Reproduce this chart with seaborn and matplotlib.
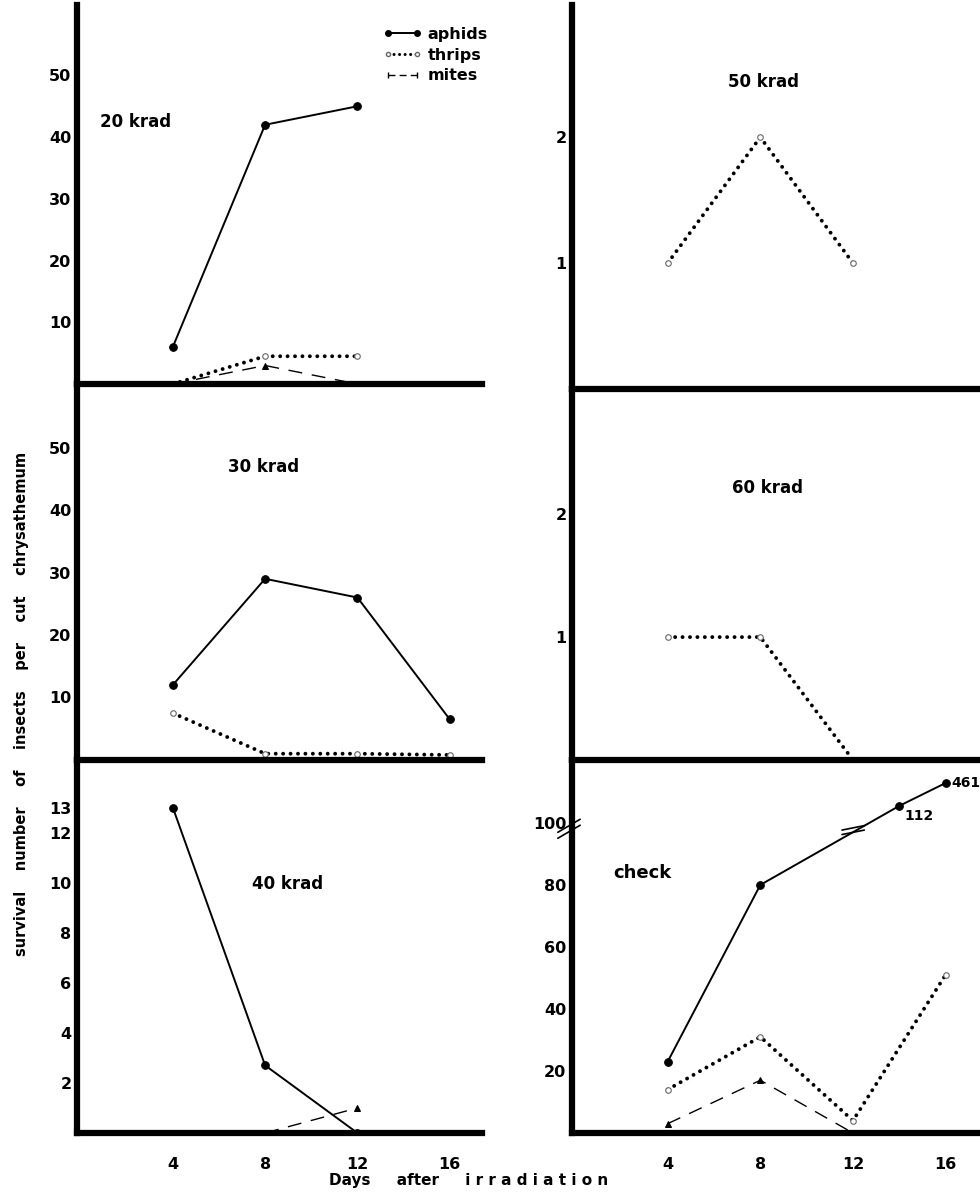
import numpy as np
import matplotlib
matplotlib.use("Agg")
import matplotlib.pyplot as plt
import seaborn as sns
from matplotlib.lines import Line2D

sns.set_style("white")
plt.rcParams['font.family'] = ['DejaVu Sans']
plt.rcParams['font.weight'] = 'bold'
plt.rcParams['text.color'] = 'black'
plt.rcParams['xtick.color'] = 'black'
plt.rcParams['ytick.color'] = 'black'
plt.rcParams['axes.labelcolor'] = 'black'

# ---- data (days after irradiation) ----
days = [4, 8, 12, 16]

# 20 krad
aphids_20 = [6, 42, 45]
thrips_20 = [0, 4.5, 4.5]
mites_20 = [0, 3, 0]

# 30 krad
aphids_30 = [12, 29, 26, 6.5]
thrips_30 = [7.5, 1, 1, 0.8]

# 40 krad
aphids_40 = [13, 2.7, 0]
mites_40_days = [8, 12]
mites_40 = [0, 1]

# 50 / 60 krad (thrips only)
thrips_50 = [1, 2, 1]
thrips_60 = [1, 1, 0]

# check (untreated)
aphids_chk_days = [4, 8, 14, 16]
aphids_chk = [23, 80, 112, 461]
thrips_chk = [14, 31, 4, 51]
mites_chk = [3, 17, 0]

FS = 11.5


def brk_fwd(y):
    y = np.asarray(y, float)
    return np.where(y <= 100, y, 100 + 2.95 * np.abs(y - 100) ** 0.25)


def brk_inv(f):
    f = np.asarray(f, float)
    return np.where(f <= 100, f, 100 + ((f - 100) / 2.95) ** 4)


def aphid_line(ax, x, y):
    sns.lineplot(x=x, y=y, ax=ax, color='black', linewidth=1.4, marker='o',
                 markersize=5.5, markerfacecolor='black', markeredgecolor='black')


def thrips_line(ax, x, y):
    sns.lineplot(x=x, y=y, ax=ax, color='black', linewidth=2.8,
                 linestyle=(0, (0.01, 1.9)), dash_capstyle='round',
                 marker='o', markersize=4, markerfacecolor='white',
                 markeredgecolor='#666666', markeredgewidth=0.8)


def mites_line(ax, x, y):
    sns.lineplot(x=x, y=y, ax=ax, color='black', linewidth=1.0,
                 linestyle=(0, (10, 7)), marker='^', markersize=4,
                 markerfacecolor='black', markeredgecolor='black')


def style_ax(ax, xlabels):
    ax.set_facecolor('none')
    for s in ['top', 'right']:
        ax.spines[s].set_visible(False)
    for s in ['left', 'bottom']:
        ax.spines[s].set_linewidth(4.5)
        ax.spines[s].set_color('black')
    ax.set_xticks(days)
    ax.tick_params(axis='both', direction='in', length=4, width=1.5,
                   labelsize=FS, color='black', labelcolor='black')
    ax.tick_params(axis='y', pad=4)
    ax.tick_params(axis='x', pad=17, labelbottom=xlabels)
    ax.set_xlabel('')
    ax.set_ylabel('')
    for lab in ax.get_xticklabels() + ax.get_yticklabels():
        lab.set_fontweight('bold')


fig = plt.figure(figsize=(9.8, 11.93), dpi=100)
fig.patch.set_facecolor('white')

ax1 = fig.add_axes([0.0786, 0.6781, 0.4133, 0.3177])
ax2 = fig.add_axes([0.0786, 0.3630, 0.4133, 0.3152])
ax3 = fig.add_axes([0.0786, 0.0503, 0.4133, 0.3127])
ax4 = fig.add_axes([0.5837, 0.6739, 0.4143, 0.3219])
ax5 = fig.add_axes([0.5837, 0.3630, 0.4143, 0.3110])
ax6 = fig.add_axes([0.5837, 0.0503, 0.4143, 0.3127])

# 20 krad
aphid_line(ax1, days[:3], aphids_20)
thrips_line(ax1, days[:3], thrips_20)
mites_line(ax1, days[:3], mites_20)
ax1.set_xlim(-0.15, 17.4)
ax1.set_ylim(0, 61.4)
ax1.set_yticks([10, 20, 30, 40, 50])
style_ax(ax1, False)
ax1.text(0.057, 0.691, '20 krad', transform=ax1.transAxes, fontsize=12,
         fontweight='bold', ha='left', va='center')
handles = [
    Line2D([], [], color='black', lw=1.4, marker='o', ms=4),
    Line2D([], [], color='black', lw=2.2, ls=(0, (0.01, 1.8)),
           dash_capstyle='round', marker='o', ms=3, mfc='white', mec='#666666'),
    Line2D([], [], color='black', lw=1.0, ls=(0, (5, 3)), marker='|', ms=5),
]
ax1.legend(handles, ['aphids', 'thrips', 'mites'], loc='upper left',
           bbox_to_anchor=(0.72, 0.98), frameon=False, numpoints=2,
           handlelength=2.4, handletextpad=0.4, labelspacing=0.35,
           prop={'weight': 'bold', 'size': 11.5})

# 30 krad
aphid_line(ax2, days, aphids_30)
thrips_line(ax2, days, thrips_30)
ax2.set_xlim(-0.15, 17.4)
ax2.set_ylim(0, 60.2)
ax2.set_yticks([10, 20, 30, 40, 50])
style_ax(ax2, False)
ax2.text(0.373, 0.779, '30 krad', transform=ax2.transAxes, fontsize=12,
         fontweight='bold', ha='left', va='center')

# 40 krad
aphid_line(ax3, days[:3], aphids_40)
mites_line(ax3, mites_40_days, mites_40)
ax3.set_xlim(-0.15, 17.4)
ax3.set_ylim(0, 14.9)
ax3.set_yticks([2, 4, 6, 8, 10, 12, 13])
style_ax(ax3, True)
ax3.text(0.432, 0.668, '40 krad', transform=ax3.transAxes, fontsize=12,
         fontweight='bold', ha='left', va='center')

# 50 krad
thrips_line(ax4, days[:3], thrips_50)
ax4.set_xlim(-0.13, 17.4)
ax4.set_ylim(0, 3.05)
ax4.set_yticks([1, 2])
style_ax(ax4, False)
ax4.text(0.384, 0.80, '50 krad', transform=ax4.transAxes, fontsize=12,
         fontweight='bold', ha='left', va='center')

# 60 krad
thrips_line(ax5, days[:3], thrips_60)
ax5.set_xlim(-0.13, 17.4)
ax5.set_ylim(0, 3.02)
ax5.set_yticks([1, 2])
style_ax(ax5, False)
ax5.text(0.394, 0.733, '60 krad', transform=ax5.transAxes, fontsize=12,
         fontweight='bold', ha='left', va='center')

# check, broken y axis above 100
ax6.set_yscale('function', functions=(brk_fwd, brk_inv))
aphid_line(ax6, aphids_chk_days, aphids_chk)
thrips_line(ax6, days, thrips_chk)
mites_line(ax6, days[:3], mites_chk)
ax6.set_xlim(-0.13, 17.4)
ax6.set_ylim(0, float(brk_inv(120.3)))
ax6.set_yticks([20, 40, 60, 80, 100])
ax6.set_yticklabels(['20', '40', '60', '80', '100'])
ax6.yaxis.set_minor_locator(matplotlib.ticker.NullLocator())
style_ax(ax6, True)
ax6.text(0.101, 0.697, 'check', transform=ax6.transAxes, fontsize=13,
         fontweight='bold', ha='left', va='center')
ax6.annotate(str(aphids_chk[3]), (aphids_chk_days[3], aphids_chk[3]),
             xytext=(4, 0), textcoords='offset points', fontsize=10,
             fontweight='bold', va='center', ha='left', annotation_clip=False)
ax6.annotate(str(aphids_chk[2]), (aphids_chk_days[2], aphids_chk[2]),
             xytext=(4, -7), textcoords='offset points', fontsize=10,
             fontweight='bold', va='center', ha='left')
# break marks on the y axis and on the aphid line
for dy in (0.0, 0.016):
    ax6.add_line(Line2D([-0.035, 0.02], [0.79 + dy, 0.825 + dy],
                        transform=ax6.transAxes, color='black', lw=1.2,
                        clip_on=False))
for dy in (0.0, 0.012):
    ax6.add_line(Line2D([0.665, 0.72], [0.800 + dy, 0.812 + dy],
                        transform=ax6.transAxes, color='black', lw=1.2,
                        clip_on=False))

fig.text(0.022, 0.41,
         'survival    number    of    insects    per    cut    chrysathemum',
         rotation=90, ha='center', va='center', fontsize=10.5, fontweight='bold')
fig.text(0.478, 0.004, 'Days     after     i r r a d i a t i o n',
         ha='center', va='bottom', fontsize=11, fontweight='bold')

fig.savefig('out.png', dpi=100, facecolor='white')
